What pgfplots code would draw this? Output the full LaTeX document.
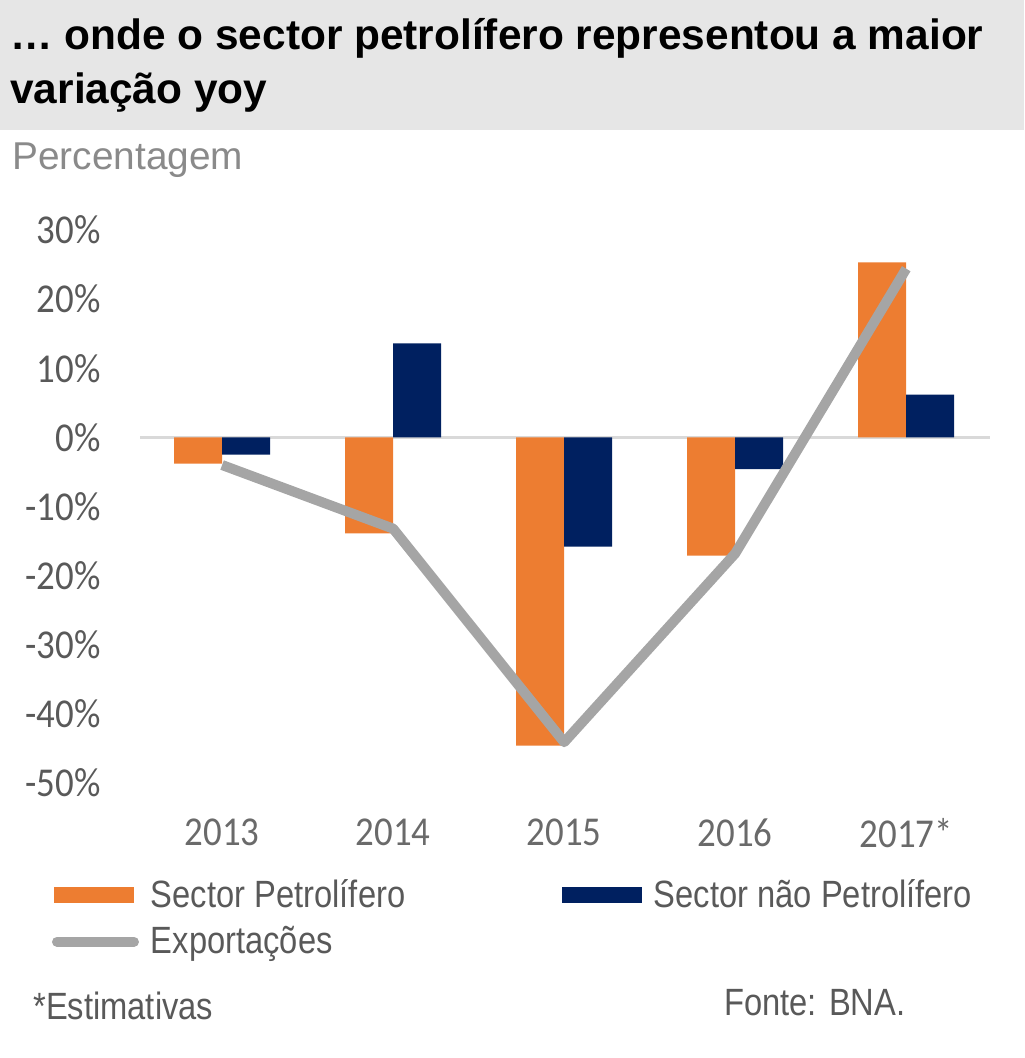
\documentclass[border=0pt]{standalone}
\usepackage{fontspec}
\setmainfont{Liberation Sans}
\newfontfamily\tickfont[FakeStretch=0.9]{Carlito}
\newfontfamily\narrowfont[FakeStretch=0.86]{Liberation Sans}
\usepackage{pgfplots}
\pgfplotsset{compat=1.18}
\definecolor{cOrange}{HTML}{ED7D31}
\definecolor{cNavy}{HTML}{002060}
\definecolor{cLine}{HTML}{A5A5A5}
\definecolor{cBg}{HTML}{E6E6E6}
\definecolor{cTick}{HTML}{595959}
\definecolor{cXTick}{HTML}{6A6A6A}
\definecolor{cSub}{HTML}{8A8A8A}
\definecolor{cZero}{HTML}{D9D9D9}
\begin{document}
\begin{tikzpicture}
\path[use as bounding box] (0pt,0pt) rectangle (512pt,529pt);
\fill[cBg] (0pt,464pt) rectangle (512pt,529pt);
\node[anchor=base west, inner sep=0pt, font=\fontsize{21.2}{26}\selectfont\bfseries] at (5pt,504pt) {\dots{} onde o sector petrolífero representou a maior};
\node[anchor=base west, inner sep=0pt, font=\fontsize{21.2}{26}\selectfont\bfseries] at (5pt,477pt) {variação yoy};
\node[anchor=base west, inner sep=0pt, text=cSub, font=\fontsize{19.4}{23}\selectfont] at (6pt,444pt) {Percentagem};
\begin{axis}[
  at={(70pt,137.5pt)}, anchor=south west,
  scale only axis, width=425pt, height=276.5pt,
  ybar, bar width=24pt,
  xmin=-0.48, xmax=4.49, ymin=-50, ymax=30,
  axis line style={draw=none},
  major tick length=0pt,
  xtick={0,1,2,3,4},
  xticklabels={2013,2014,2015,2016,2017*},
  ytick={-50,-40,-30,-20,-10,0,10,20,30},
  yticklabels={-50\%,-40\%,-30\%,-20\%,-10\%,0\%,10\%,20\%,30\%},
  yticklabel style={anchor=east, inner sep=0pt, xshift=-19.5pt, text=cTick, font=\tickfont\fontsize{20.5}{24}\selectfont},
  xticklabel style={anchor=north, inner sep=0pt, yshift=-17.5pt, text=cXTick, font=\tickfont\fontsize{20.5}{24}\selectfont},
  extra y ticks={0}, extra y tick labels={},
  extra y tick style={ymajorgrids=true, major grid style={draw=cZero, line width=1.2pt}},
  legend columns=2,
  legend cell align=left,
  legend style={draw=none, fill=none, at={(axis description cs:-0.104,-0.174)}, anchor=north west,
    inner sep=0pt, row sep=8pt,
    nodes={inner sep=0pt, text=cTick, font=\narrowfont\fontsize{19}{22}\selectfont},
    /tikz/every odd column/.style={column sep=6pt}},
]
\addplot[fill=cOrange, draw=none, bar shift=-12pt,
  legend image code/.code={\fill[cOrange] (0pt,-4pt) rectangle (40pt,4pt);}]
  coordinates {(0,-3.8) (1,-13.9) (2,-44.6) (3,-17.1) (4,25.3)};
\addlegendentry{\makebox[205.5pt][l]{Sector Petrolífero}}
\addplot[fill=cNavy, draw=none, bar shift=12pt,
  legend image code/.code={\fill[cNavy] (0pt,-4pt) rectangle (40pt,4pt);}]
  coordinates {(0,-2.5) (1,13.6) (2,-15.8) (3,-4.6) (4,6.2)};
\addlegendentry{Sector não Petrolífero}
\addplot[sharp plot, draw=cLine, line width=5pt, line join=round,
  legend image code/.code={\draw[cLine, line width=5pt, line cap=round] (1.5pt,0pt) -- (40pt,0pt);}]
  coordinates {(0,-4.0) (1,-13.2) (2,-44.1) (3,-16.8) (4,24.4)};
\addlegendentry{Exportações}
\end{axis}
\node[anchor=base west, inner sep=0pt, text=cTick, font=\narrowfont\fontsize{19}{22}\selectfont] at (16.5pt,19pt) {*Estimativas};
\node[anchor=base west, inner sep=0pt, text=cTick, font=\narrowfont\fontsize{19}{22}\selectfont] at (362pt,21pt) {Fonte: BNA.};
\end{tikzpicture}
\end{document}
